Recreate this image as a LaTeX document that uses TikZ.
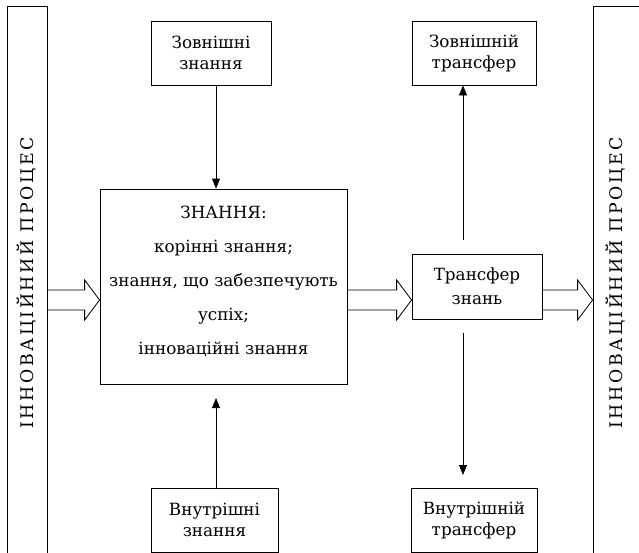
\documentclass[tikz,border=0pt]{standalone}
\usepackage{fontspec}
\setmainfont{DejaVu Serif}
\newfontfamily\termfont{DejaVu Serif}
\usetikzlibrary{positioning,calc,arrows.meta}

\tikzset{
	box/.style={draw,line width=0.6pt,align=center,inner sep=0pt,
		font=\termfont\fontsize{12.6}{15.75}\selectfont},
	bar/.style={draw,line width=0.6pt,minimum width=30pt,minimum height=430pt,inner sep=0pt},
	vtext/.style={rotate=90,font=\termfont\fontsize{13}{16}\selectfont\addfontfeature{LetterSpace=15}},
	pointer/.style={line width=0.6pt,-{Triangle[length=7.5pt,width=6pt]}},
}

% hollow block arrow from #1 to #2 (both on the flow line)
\newcommand\fatarrow[2]{%
	\draw [line width=0.6pt] let \p1=(#1), \p2=(#2) in
	(\x1,\y1+7.5pt) -- (\x2-11.25pt,\y1+7.5pt) -- (\x2-11.25pt,\y1+15pt) -- (\x2,\y1)
	-- (\x2-11.25pt,\y1-15pt) -- (\x2-11.25pt,\y1-7.5pt) -- (\x1,\y1-7.5pt);}

\begin{document}
\begin{tikzpicture}[x=0.75pt,y=-0.75pt]
	
	\useasboundingbox (0,0) rectangle (639,553);
	
	\coordinate (flow) at (0,300);
	
	%%%%%%%%%%%%%%%%%%%%%%%%%%%%%%%%%%%%%%%%%%%%%%%%%%%%%%
	
	\node [bar] (left) at (27,293.5) {};
	\node [vtext] (left-text) at (27,283) {ІННОВАЦІЙНИЙ ПРОЦЕС};
	
	\node [bar,minimum width=39pt] (right) at (619,293.5) {};
	\node [vtext] (right-text) at (616,283) {ІННОВАЦІЙНИЙ ПРОЦЕС};
	
	%%%%%%%%%%%%%%%%%%%%%%%%%%%%%%%%%%%%%%%%%%%%%%%%%%%%%%
	
	\node [box,minimum width=90pt,minimum height=48pt] (ext-know) at (211,53) {Зовнішні\\знання};
	\node [box,minimum width=95.25pt,minimum height=48pt] (int-know) at (214.5,520) {Внутрішні\\знання};
	
	\node [box,minimum width=185.25pt,minimum height=146.25pt] (know) at (223.5,286.5) {};
	\node [align=center,inner sep=0pt,font=\termfont\fontsize{12.6}{25.5}\selectfont,below=13pt of know.north] (know-text)
	{ЗНАННЯ:\\корінні знання;\\знання, що забезпечують\\успіх;\\інноваційні знання};
	
	%%%%%%%%%%%%%%%%%%%%%%%%%%%%%%%%%%%%%%%%%%%%%%%%%%%%%%
	
	\node [box,font=\termfont\fontsize{12.6}{18}\selectfont,minimum width=97.5pt,minimum height=48.75pt] (transfer) at (477,286.5) {Трансфер\\знань};
	\node [box,minimum width=93pt,minimum height=48pt] (ext-transfer) at (474,53) {Зовнішній\\трансфер};
	\node [box,minimum width=94.5pt,minimum height=48pt] (int-transfer) at (474,520) {Внутрішній\\трансфер};
	
	%%%%%%%%%%%%%%%%%%%%%%%%%%%%%%%%%%%%%%%%%%%%%%%%%%%%%%
	
	\coordinate (in-end) at (216,398);
	\coordinate (up-start) at (463,240);
	\coordinate (down-start) at (463,333);
	\coordinate (down-end) at (463,475);
	
	\draw [pointer] (ext-know.south -| in-end) -- (know.north -| in-end);
	\draw [pointer] (int-know.north -| in-end) -- (in-end);
	\draw [pointer] (up-start) -- (ext-transfer.south -| up-start);
	\draw [pointer] (down-start) -- (down-end);
	
	\fatarrow{left.east |- flow}{know.west |- flow}
	\fatarrow{know.east |- flow}{transfer.west |- flow}
	\fatarrow{transfer.east |- flow}{right.west |- flow}
	
\end{tikzpicture}
\end{document}
